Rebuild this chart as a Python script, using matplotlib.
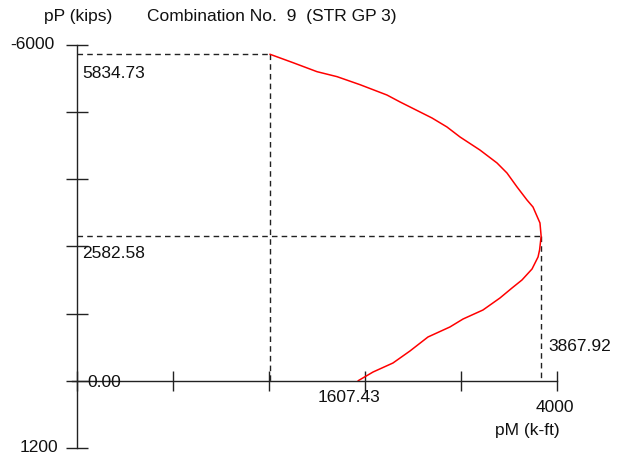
import matplotlib
matplotlib.use("Agg")
import matplotlib.pyplot as plt

plt.rcParams['font.family'] = ['Liberation Sans', 'DejaVu Sans']

# Interaction curve: moment pM (k-ft) vs axial load pP (kips, compression negative)
moment = [1607.43, 1800, 2000, 2167, 2358, 2583, 2692, 2958, 3083, 3192, 3358,
          3500, 3583, 3667, 3750, 3800, 3858, 3867.92, 3855, 3842, 3792, 3708,
          3625, 3525, 3383, 3217, 3108, 2925, 2775, 2633, 2467, 2342]
axial = [-5834.73, -5684, -5523, -5434, -5291, -5106, -4982, -4696, -4535, -4356,
         -4123, -3892, -3713, -3463, -3230, -3105, -2820, -2582.58, -2340, -2212,
         -1998, -1801, -1658, -1480, -1265, -1104, -962, -783, -533, -318,
         -157, 0]

# Marked points
top_point = (1607.43, -5834.73)
max_point = (3867.92, -2582.58)

x_ticks = [0, 800, 1600, 2400, 3200, 4000]
y_ticks = [-6000, -4800, -3600, -2400, -1200, 0, 1200]
x_labels = ["0.00", "1607.43", "4000"]
y_labels = ["-6000", "5834.73", "2582.58", "1200"]
title = "Combination No.  9  (STR GP 3)"
y_title = "pP (kips)"
x_title = "pM (k-ft)"

W, H = 620, 458
fig = plt.figure(figsize=(W / 100, H / 100), dpi=100)
ax = fig.add_axes([0, 0, 1, 1])

# pixel scale of the plot area
sx = 0.12       # px per k-ft
sy = 0.05597    # px per kip
x0_px, y0_px = 77, 380.8
ax.set_xlim(-x0_px / sx, (W - x0_px) / sx)
ax.set_ylim((H - y0_px) / sy, -y0_px / sy)

ink = "#222222"
for side in ("top", "right"):
    ax.spines[side].set_visible(False)
ax.spines["left"].set_position(("data", 0))
ax.spines["bottom"].set_position(("data", 0))
ax.spines["left"].set_bounds(y_ticks[-1], y_ticks[0])
ax.spines["bottom"].set_bounds(-40, x_ticks[-1])
for side in ("left", "bottom"):
    ax.spines[side].set_color(ink)
    ax.spines[side].set_linewidth(1.0)

ax.set_xticks(x_ticks)
ax.set_yticks(y_ticks)
ax.tick_params(axis="y", direction="inout", length=16.5, width=1.0, color=ink,
               labelleft=False)
ax.tick_params(axis="x", direction="inout", length=14.5, width=1.0, color=ink,
               labelbottom=False)

# dashed reference lines
dash = dict(color=ink, lw=1.0, ls=(0, (4, 3)))
ax.plot([0, top_point[0]], [top_point[1], top_point[1]], **dash)
ax.plot([top_point[0], top_point[0]], [top_point[1], 0], **dash)
ax.plot([0, max_point[0]], [max_point[1], max_point[1]], **dash)
ax.plot([max_point[0], max_point[0]], [max_point[1], 0], **dash)

# curve
ax.plot(moment, axial, color="#ff0000", lw=1.1, solid_capstyle="round",
        solid_joinstyle="round")

fs = 12.5
txt = dict(fontsize=fs, color="#111111")
ax.text(-185, y_ticks[0], y_labels[0], ha="right", va="center", **txt)
ax.text(-160, y_ticks[-1], y_labels[3], ha="right", va="center", **txt)
ax.text(40, top_point[1] + 350, y_labels[1], ha="left", va="center", **txt)
ax.text(40, max_point[1] + 300, y_labels[2], ha="left", va="center", **txt)
ax.text(90, 25, x_labels[0], ha="left", va="center", **txt)
ax.text(2270, 290, x_labels[1], ha="center", va="center", **txt)
ax.text(max_point[0] + 60, -620, "3867.92", ha="left", va="center", **txt)
ax.text(x_ticks[-1] - 15, 470, x_labels[2], ha="center", va="center", **txt)
ax.text(4025, 880, x_title, ha="right", va="center", **txt)
ax.text(-275, -6500, y_title, ha="left", va="center", **txt)
ax.text(583, -6500, title, ha="left", va="center", **txt)

fig.savefig("out.png", dpi=100)
